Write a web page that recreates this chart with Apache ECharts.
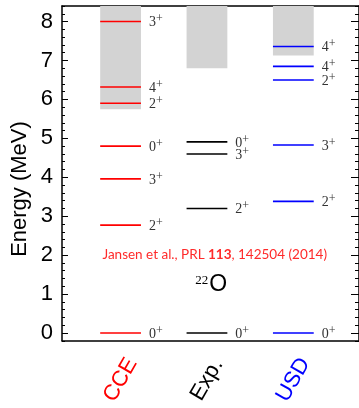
<!DOCTYPE html>
<html>
<head>
<meta charset="utf-8">
<script src="https://cdn.jsdelivr.net/npm/echarts@6/dist/echarts.min.js"></script>
<style>
  html, body { margin: 0; padding: 0; background: #fff; }
  #chart { width: 359px; height: 408px; }
</style>
</head>
<body>
<div id="chart"></div>
<script>
// Level scheme of 22O: coupled-cluster (CCE), experiment and USD shell model
const categories = ['CCE', 'Exp.', 'USD'];
const categoryColors = ['#ff0000', '#000000', '#0000ff'];

const cceEnergies = [0, 2.77, 3.96, 4.80, 5.90, 6.32, 8.00];
const cceSpins    = ['0', '2', '3', '0', '2', '4', '3'];
const expEnergies = [0, 3.20, 4.60, 4.91];
const expSpins    = ['0', '2', '3', '0'];
const usdEnergies = [0, 3.38, 4.83, 6.50, 6.85, 7.36];
const usdSpins    = ['0', '2', '3', '2', '4', '4'];

// lower edge of the shaded (unbound / uncertain) region per column
const bandLower = [5.75, 6.80, 7.13];

const yTicks = [0, 1, 2, 3, 4, 5, 6, 7, 8];
const Y_MIN = -0.2, Y_MAX = 8.4;
const X_MIN = 0.322, X_MAX = 3.76;
const HALF = 0.236; // half width of a level line, in column units

const minorTicks = [];
for (let i = -1; i <= 42; i++) {
  const v = Math.round(i * 0.2 * 10) / 10;
  if (v % 1 !== 0 && v >= Y_MIN && v <= Y_MAX) minorTicks.push(v);
}

const serif = 'Liberation Serif';
const sans = 'Liberation Sans';

const columns = [
  { energies: cceEnergies, spins: cceSpins },
  { energies: expEnergies, spins: expSpins },
  { energies: usdEnergies, spins: usdSpins }
];

function levelSeries(col, idx) {
  const data = col.energies.map(e => [idx + 1, e]);
  return {
    type: 'custom',
    z: 5,
    data: data,
    renderItem: function (params, api) {
      const x = api.value(0), e = api.value(1);
      const p0 = api.coord([x - HALF, e]);
      const p1 = api.coord([x + HALF, e]);
      const spin = col.spins[params.dataIndex];
      return {
        type: 'group',
        children: [
          { type: 'line',
            shape: { x1: p0[0], y1: p0[1], x2: p1[0], y2: p1[1] },
            style: { stroke: categoryColors[idx], lineWidth: 1.6 } },
          { type: 'text', x: p1[0] + 8, y: p1[1] + 1,
            style: {
              text: '{n|' + spin + '}{s|+}',
              align: 'left', verticalAlign: 'middle',
              rich: {
                n: { fontFamily: serif, fontSize: 14, fill: '#333' },
                s: { fontFamily: serif, fontSize: 12, fill: '#333', padding: [0, 0, 7, 0] }
              }
            } }
        ]
      };
    }
  };
}

const bandSeries = {
  type: 'custom',
  z: 1,
  data: bandLower.map((b, i) => [i + 1, b]),
  renderItem: function (params, api) {
    const x = api.value(0), lo = api.value(1);
    const tl = api.coord([x - HALF, Y_MAX]);
    const br = api.coord([x + HALF, lo]);
    return { type: 'rect',
      shape: { x: tl[0], y: tl[1], width: br[0] - tl[0], height: br[1] - tl[1] },
      style: { fill: '#d3d3d3' } };
  }
};

const notes = [
  { pos: [2.09, 2.02], kind: 'ref' },
  { pos: [2.05, 1.24], kind: 'nucleus' }
];

const noteSeries = {
  type: 'custom',
  z: 6,
  data: notes.map(n => n.pos),
  renderItem: function (params, api) {
    const p = api.coord([api.value(0), api.value(1)]);
    const n = notes[params.dataIndex];
    if (n.kind === 'ref') {
      return { type: 'text', x: p[0], y: p[1],
        style: {
          text: '{a|Jansen et al., PRL }{b|113}{a|, 142504 (2014)}',
          align: 'center', verticalAlign: 'middle',
          rich: {
            a: { fontFamily: 'Lato', fontSize: 13.5, fill: '#ff2a2a' },
            b: { fontFamily: 'Lato', fontSize: 13.5, fontWeight: 'bold', fill: '#ff2a2a' }
          }
        } };
    }
    return { type: 'text', x: p[0], y: p[1],
      style: {
        text: '{m|22}{o|O}',
        align: 'center', verticalAlign: 'middle',
        rich: {
          m: { fontFamily: serif, fontSize: 13, fill: '#000', padding: [0, 1, 9, 0] },
          o: { fontFamily: sans, fontSize: 23, fill: '#000' }
        }
      } };
  }
};

const chart = echarts.init(document.getElementById('chart'), null, { renderer: 'canvas' });

const axisLineStyle = { color: '#000', width: 1.5 };

chart.setOption({
  animation: false,
  backgroundColor: '#fff',
  grid: { left: 62, right: -2, top: 6, bottom: 65, containLabel: false },
  // vertical axis title
  graphic: [{
    type: 'text', x: 20, y: 189, rotation: Math.PI / 2,
    style: { text: 'Energy (MeV)', fontFamily: sans, fontSize: 22, fill: '#000',
             align: 'center', verticalAlign: 'middle' }
  }],
  xAxis: [
    { type: 'value', position: 'bottom', min: X_MIN, max: X_MAX,
      axisLine: { show: true, onZero: false, lineStyle: axisLineStyle },
      axisTick: { show: false },
      splitLine: { show: false },
      axisLabel: {
        customValues: [1, 2, 3],
        formatter: v => categories[Math.round(v) - 1],
        color: (v) => categoryColors[Math.round(Number(v)) - 1],
        rotate: 60, align: 'center', verticalAlign: 'middle', margin: 39,
        fontFamily: sans, fontSize: 22
      } },
    { type: 'value', position: 'top', min: X_MIN, max: X_MAX,
      axisLine: { show: true, onZero: false, lineStyle: axisLineStyle },
      axisTick: { show: true, customValues: [1, 2, 3], inside: true, length: 7, lineStyle: { color: '#000', width: 1.2 } },
      axisLabel: { show: false },
      splitLine: { show: false } }
  ],
  yAxis: [
    { type: 'value', position: 'left', min: Y_MIN, max: Y_MAX,
      axisLine: { show: true, onZero: false, lineStyle: axisLineStyle },
      axisTick: { show: true, customValues: yTicks, inside: true, length: 6, lineStyle: { color: '#000', width: 1 } },
      axisLabel: { customValues: yTicks, fontFamily: sans, fontSize: 22, color: '#000', margin: 9 },
      splitLine: { show: false } },
    { type: 'value', position: 'left', min: Y_MIN, max: Y_MAX,
      axisLine: { show: false },
      axisTick: { show: true, customValues: minorTicks, inside: true, length: 3, lineStyle: { color: '#000', width: 1 } },
      axisLabel: { show: false }, splitLine: { show: false } },
    { type: 'value', position: 'right', min: Y_MIN, max: Y_MAX,
      axisLine: { show: true, onZero: false, lineStyle: axisLineStyle },
      axisTick: { show: true, customValues: yTicks, inside: true, length: 8, lineStyle: { color: '#000', width: 1 } },
      axisLabel: { show: false }, splitLine: { show: false } },
    { type: 'value', position: 'right', min: Y_MIN, max: Y_MAX,
      axisLine: { show: false },
      axisTick: { show: true, customValues: minorTicks, inside: true, length: 4, lineStyle: { color: '#000', width: 1 } },
      axisLabel: { show: false }, splitLine: { show: false } }
  ],
  series: [bandSeries].concat(columns.map(levelSeries)).concat([noteSeries])
});
</script>
</body>
</html>
